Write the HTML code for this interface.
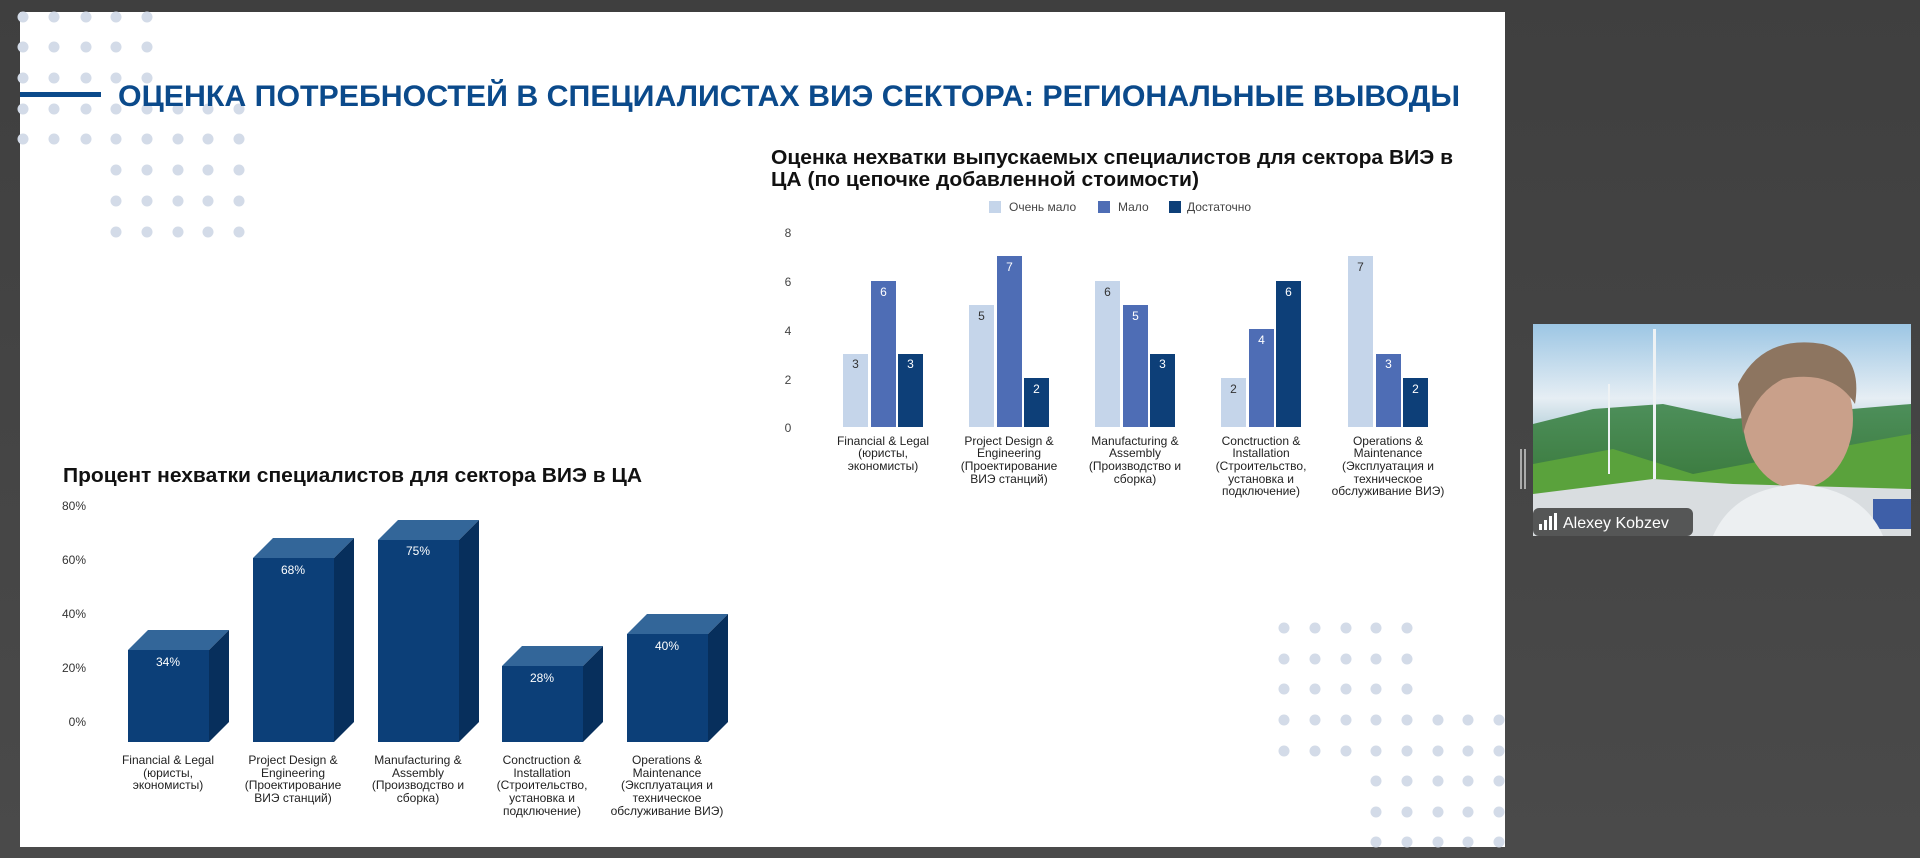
<!DOCTYPE html>
<html><head><meta charset="utf-8"><style>
html,body{margin:0;padding:0;background:#444;}
svg{display:block;}
text{font-family:"Liberation Sans",sans-serif;}
</style></head><body>
<svg width="1920" height="858" viewBox="0 0 1920 858" xmlns="http://www.w3.org/2000/svg">
<defs>
<linearGradient id="bg" x1="0" y1="0" x2="0" y2="1"><stop offset="0" stop-color="#3f3f3f"/><stop offset="1" stop-color="#4a4a4a"/></linearGradient>
<linearGradient id="sky" x1="0" y1="0" x2="0" y2="1"><stop offset="0" stop-color="#9cc6e4"/><stop offset="0.35" stop-color="#e6eef4"/><stop offset="0.5" stop-color="#b9d2dc"/><stop offset="1" stop-color="#7aa9b8"/></linearGradient>
<linearGradient id="hill" x1="0" y1="0" x2="0" y2="1"><stop offset="0" stop-color="#4d8f5a"/><stop offset="1" stop-color="#2f6d2c"/></linearGradient>
</defs>
<rect width="1920" height="858" fill="url(#bg)"/>
<rect x="20" y="12" width="1485" height="835" fill="#ffffff"/>

<!-- dots top-left -->
<g fill="#d3dbe8">
<circle cx="23" cy="17" r="5.5"/><circle cx="54" cy="17" r="5.5"/><circle cx="86" cy="17" r="5.5"/><circle cx="116" cy="17" r="5.5"/><circle cx="147" cy="17" r="5.5"/>
<circle cx="23" cy="47" r="5.5"/><circle cx="54" cy="47" r="5.5"/><circle cx="86" cy="47" r="5.5"/><circle cx="116" cy="47" r="5.5"/><circle cx="147" cy="47" r="5.5"/>
<circle cx="23" cy="78" r="5.5"/><circle cx="54" cy="78" r="5.5"/><circle cx="86" cy="78" r="5.5"/><circle cx="116" cy="78" r="5.5"/><circle cx="147" cy="78" r="5.5"/>
<circle cx="23" cy="109" r="5.5"/><circle cx="54" cy="109" r="5.5"/><circle cx="86" cy="109" r="5.5"/><circle cx="116" cy="109" r="5.5"/><circle cx="147" cy="109" r="5.5"/><circle cx="178" cy="109" r="5.5"/><circle cx="208" cy="109" r="5.5"/><circle cx="239" cy="109" r="5.5"/>
<circle cx="23" cy="139" r="5.5"/><circle cx="54" cy="139" r="5.5"/><circle cx="86" cy="139" r="5.5"/><circle cx="116" cy="139" r="5.5"/><circle cx="147" cy="139" r="5.5"/><circle cx="178" cy="139" r="5.5"/><circle cx="208" cy="139" r="5.5"/><circle cx="239" cy="139" r="5.5"/>
<circle cx="116" cy="170" r="5.5"/><circle cx="147" cy="170" r="5.5"/><circle cx="178" cy="170" r="5.5"/><circle cx="208" cy="170" r="5.5"/><circle cx="239" cy="170" r="5.5"/>
<circle cx="116" cy="201" r="5.5"/><circle cx="147" cy="201" r="5.5"/><circle cx="178" cy="201" r="5.5"/><circle cx="208" cy="201" r="5.5"/><circle cx="239" cy="201" r="5.5"/>
<circle cx="116" cy="232" r="5.5"/><circle cx="147" cy="232" r="5.5"/><circle cx="178" cy="232" r="5.5"/><circle cx="208" cy="232" r="5.5"/><circle cx="239" cy="232" r="5.5"/>
</g>
<!-- dots bottom-right -->
<g fill="#d3dbe8">
<circle cx="1284" cy="628" r="5.5"/><circle cx="1315" cy="628" r="5.5"/><circle cx="1346" cy="628" r="5.5"/><circle cx="1376" cy="628" r="5.5"/><circle cx="1407" cy="628" r="5.5"/>
<circle cx="1284" cy="659" r="5.5"/><circle cx="1315" cy="659" r="5.5"/><circle cx="1346" cy="659" r="5.5"/><circle cx="1376" cy="659" r="5.5"/><circle cx="1407" cy="659" r="5.5"/>
<circle cx="1284" cy="689" r="5.5"/><circle cx="1315" cy="689" r="5.5"/><circle cx="1346" cy="689" r="5.5"/><circle cx="1376" cy="689" r="5.5"/><circle cx="1407" cy="689" r="5.5"/>
<circle cx="1284" cy="720" r="5.5"/><circle cx="1315" cy="720" r="5.5"/><circle cx="1346" cy="720" r="5.5"/><circle cx="1376" cy="720" r="5.5"/><circle cx="1407" cy="720" r="5.5"/><circle cx="1438" cy="720" r="5.5"/><circle cx="1468" cy="720" r="5.5"/><circle cx="1499" cy="720" r="5.5"/>
<circle cx="1284" cy="751" r="5.5"/><circle cx="1315" cy="751" r="5.5"/><circle cx="1346" cy="751" r="5.5"/><circle cx="1376" cy="751" r="5.5"/><circle cx="1407" cy="751" r="5.5"/><circle cx="1438" cy="751" r="5.5"/><circle cx="1468" cy="751" r="5.5"/><circle cx="1499" cy="751" r="5.5"/>
<circle cx="1376" cy="781" r="5.5"/><circle cx="1407" cy="781" r="5.5"/><circle cx="1438" cy="781" r="5.5"/><circle cx="1468" cy="781" r="5.5"/><circle cx="1499" cy="781" r="5.5"/>
<circle cx="1376" cy="812" r="5.5"/><circle cx="1407" cy="812" r="5.5"/><circle cx="1438" cy="812" r="5.5"/><circle cx="1468" cy="812" r="5.5"/><circle cx="1499" cy="812" r="5.5"/>
<circle cx="1376" cy="842" r="5.5"/><circle cx="1407" cy="842" r="5.5"/><circle cx="1438" cy="842" r="5.5"/><circle cx="1468" cy="842" r="5.5"/><circle cx="1499" cy="842" r="5.5"/>
</g>

<!-- main title -->
<rect x="20" y="92" width="81" height="5" fill="#0b4a8b"/>
<text x="118" y="106" font-size="30" font-weight="bold" fill="#0b4a8b" textLength="1342" lengthAdjust="spacingAndGlyphs">ОЦЕНКА ПОТРЕБНОСТЕЙ В СПЕЦИАЛИСТАХ ВИЭ СЕКТОРА: РЕГИОНАЛЬНЫЕ ВЫВОДЫ</text>

<!-- right chart -->
<text x="771" y="164" font-size="20" font-weight="bold" fill="#111" textLength="682" lengthAdjust="spacingAndGlyphs">Оценка нехватки выпускаемых специалистов для сектора ВИЭ в</text>
<text x="771" y="186" font-size="20" font-weight="bold" fill="#111" textLength="428" lengthAdjust="spacingAndGlyphs">ЦА (по цепочке добавленной стоимости)</text>
<rect x="989" y="201" width="12" height="12" fill="#c5d5ea"/><text x="1009" y="211" font-size="12" fill="#444">Очень мало</text>
<rect x="1098" y="201" width="12" height="12" fill="#4e6db5"/><text x="1118" y="211" font-size="12" fill="#444">Мало</text>
<rect x="1169" y="201" width="12" height="12" fill="#0d3f78"/><text x="1187" y="211" font-size="12" fill="#444">Достаточно</text>
<g font-size="12" fill="#444" text-anchor="middle">
<text x="788" y="237">8</text><text x="788" y="286">6</text><text x="788" y="335">4</text><text x="788" y="384">2</text><text x="788" y="432">0</text>
</g>
<g font-size="12" text-anchor="middle">
<!-- g1 -->
<rect x="843" y="354" width="25" height="73" fill="#c5d5ea"/><text x="855.5" y="368" fill="#333">3</text>
<rect x="871" y="281" width="25" height="146" fill="#4e6db5"/><text x="883.5" y="296" fill="#fff">6</text>
<rect x="898" y="354" width="25" height="73" fill="#0d3f78"/><text x="910.5" y="368" fill="#fff">3</text>
<!-- g2 -->
<rect x="969" y="305" width="25" height="122" fill="#c5d5ea"/><text x="981.5" y="320" fill="#333">5</text>
<rect x="997" y="256" width="25" height="171" fill="#4e6db5"/><text x="1009.5" y="271" fill="#fff">7</text>
<rect x="1024" y="378" width="25" height="49" fill="#0d3f78"/><text x="1036.5" y="393" fill="#fff">2</text>
<!-- g3 -->
<rect x="1095" y="281" width="25" height="146" fill="#c5d5ea"/><text x="1107.5" y="296" fill="#333">6</text>
<rect x="1123" y="305" width="25" height="122" fill="#4e6db5"/><text x="1135.5" y="320" fill="#fff">5</text>
<rect x="1150" y="354" width="25" height="73" fill="#0d3f78"/><text x="1162.5" y="368" fill="#fff">3</text>
<!-- g4 -->
<rect x="1221" y="378" width="25" height="49" fill="#c5d5ea"/><text x="1233.5" y="393" fill="#333">2</text>
<rect x="1249" y="329" width="25" height="98" fill="#4e6db5"/><text x="1261.5" y="344" fill="#fff">4</text>
<rect x="1276" y="281" width="25" height="146" fill="#0d3f78"/><text x="1288.5" y="296" fill="#fff">6</text>
<!-- g5 -->
<rect x="1348" y="256" width="25" height="171" fill="#c5d5ea"/><text x="1360.5" y="271" fill="#333">7</text>
<rect x="1376" y="354" width="25" height="73" fill="#4e6db5"/><text x="1388.5" y="368" fill="#fff">3</text>
<rect x="1403" y="378" width="25" height="49" fill="#0d3f78"/><text x="1415.5" y="393" fill="#fff">2</text>
</g>
<g font-size="12" fill="#222" text-anchor="middle">
<text x="883" y="445">Financial &amp; Legal</text><text x="883" y="457">(юристы,</text><text x="883" y="470">экономисты)</text>
<text x="1009" y="445">Project Design &amp;</text><text x="1009" y="457">Engineering</text><text x="1009" y="470">(Проектирование</text><text x="1009" y="483">ВИЭ станций)</text>
<text x="1135" y="445">Manufacturing &amp;</text><text x="1135" y="457">Assembly</text><text x="1135" y="470">(Производство и</text><text x="1135" y="483">сборка)</text>
<text x="1261" y="445">Conctruction &amp;</text><text x="1261" y="457">Installation</text><text x="1261" y="470">(Строительство,</text><text x="1261" y="483">установка и</text><text x="1261" y="495">подключение)</text>
<text x="1388" y="445">Operations &amp;</text><text x="1388" y="457">Maintenance</text><text x="1388" y="470">(Эксплуатация и</text><text x="1388" y="483">техническое</text><text x="1388" y="495">обслуживание ВИЭ)</text>
</g>

<!-- left chart -->
<text x="63" y="482" font-size="20" font-weight="bold" fill="#111" textLength="579" lengthAdjust="spacingAndGlyphs">Процент нехватки специалистов для сектора ВИЭ в ЦА</text>
<g font-size="12" fill="#333" text-anchor="end">
<text x="86" y="510">80%</text><text x="86" y="564">60%</text><text x="86" y="618">40%</text><text x="86" y="672">20%</text><text x="86" y="726">0%</text>
</g>
<g>
<!-- bar1 34% front top 650 -->
<polygon points="128,650 148,630 229,630 209,650" fill="#336699"/>
<polygon points="209,650 229,630 229,722 209,742" fill="#072f5c"/>
<rect x="128" y="650" width="81" height="92" fill="#0c3f78"/>
<!-- bar2 68% front top 558 -->
<polygon points="253,558 273,538 354,538 334,558" fill="#336699"/>
<polygon points="334,558 354,538 354,722 334,742" fill="#072f5c"/>
<rect x="253" y="558" width="81" height="184" fill="#0c3f78"/>
<!-- bar3 75% front top 540 -->
<polygon points="378,540 398,520 479,520 459,540" fill="#336699"/>
<polygon points="459,540 479,520 479,722 459,742" fill="#072f5c"/>
<rect x="378" y="540" width="81" height="202" fill="#0c3f78"/>
<!-- bar4 28% front top 666 -->
<polygon points="502,666 522,646 603,646 583,666" fill="#336699"/>
<polygon points="583,666 603,646 603,722 583,742" fill="#072f5c"/>
<rect x="502" y="666" width="81" height="76" fill="#0c3f78"/>
<!-- bar5 40% front top 634 -->
<polygon points="627,634 647,614 728,614 708,634" fill="#336699"/>
<polygon points="708,634 728,614 728,722 708,742" fill="#072f5c"/>
<rect x="627" y="634" width="81" height="108" fill="#0c3f78"/>
</g>
<g font-size="12" fill="#fff" text-anchor="middle">
<text x="168" y="666">34%</text><text x="293" y="574">68%</text><text x="418" y="555">75%</text><text x="542" y="682">28%</text><text x="667" y="650">40%</text>
</g>
<g font-size="12" fill="#222" text-anchor="middle">
<text x="168" y="764">Financial &amp; Legal</text><text x="168" y="777">(юристы,</text><text x="168" y="789">экономисты)</text>
<text x="293" y="764">Project Design &amp;</text><text x="293" y="777">Engineering</text><text x="293" y="789">(Проектирование</text><text x="293" y="802">ВИЭ станций)</text>
<text x="418" y="764">Manufacturing &amp;</text><text x="418" y="777">Assembly</text><text x="418" y="789">(Производство и</text><text x="418" y="802">сборка)</text>
<text x="542" y="764">Conctruction &amp;</text><text x="542" y="777">Installation</text><text x="542" y="789">(Строительство,</text><text x="542" y="802">установка и</text><text x="542" y="815">подключение)</text>
<text x="667" y="764">Operations &amp;</text><text x="667" y="777">Maintenance</text><text x="667" y="789">(Эксплуатация и</text><text x="667" y="802">техническое</text><text x="667" y="815">обслуживание ВИЭ)</text>
</g>

<!-- video panel -->
<rect x="1520" y="449" width="2" height="40" fill="#aaa"/><rect x="1524" y="449" width="2" height="40" fill="#aaa"/>
<svg x="1533" y="324" width="378" height="212" viewBox="0 0 378 212">
<rect width="378" height="212" fill="url(#sky)"/>
<polygon points="0,100 60,85 130,80 200,95 260,90 378,80 378,212 0,212" fill="url(#hill)"/>
<polygon points="0,140 80,125 160,150 240,135 378,110 378,212 0,212" fill="#5aa23c"/>
<polygon points="0,170 120,155 200,160 378,165 378,212 0,212" fill="#d9dde0"/>
<rect x="120" y="5" width="3" height="150" fill="#eef2f4"/>
<rect x="75" y="60" width="2" height="90" fill="#eef2f4"/>
<rect x="340" y="175" width="38" height="30" fill="#3e5fa8"/>
<ellipse cx="265" cy="95" rx="55" ry="70" fill="#c9a08a"/>
<path d="M205,60 Q230,10 290,20 Q330,30 322,80 Q300,45 250,55 Q220,70 210,110 Z" fill="#8d7560"/>
<path d="M180,212 Q200,165 265,160 Q330,165 350,212 Z" fill="#eceff1"/>
<rect x="0" y="184" width="160" height="28" rx="6" fill="rgba(40,40,40,0.75)"/>
<rect x="6" y="200" width="3" height="6" fill="#fff"/><rect x="11" y="196" width="3" height="10" fill="#fff"/><rect x="16" y="192" width="3" height="14" fill="#fff"/><rect x="21" y="189" width="3" height="17" fill="#fff"/>
<text x="30" y="204" font-size="16" fill="#fff">Alexey Kobzev</text>
</svg>
</svg>
</body></html>
